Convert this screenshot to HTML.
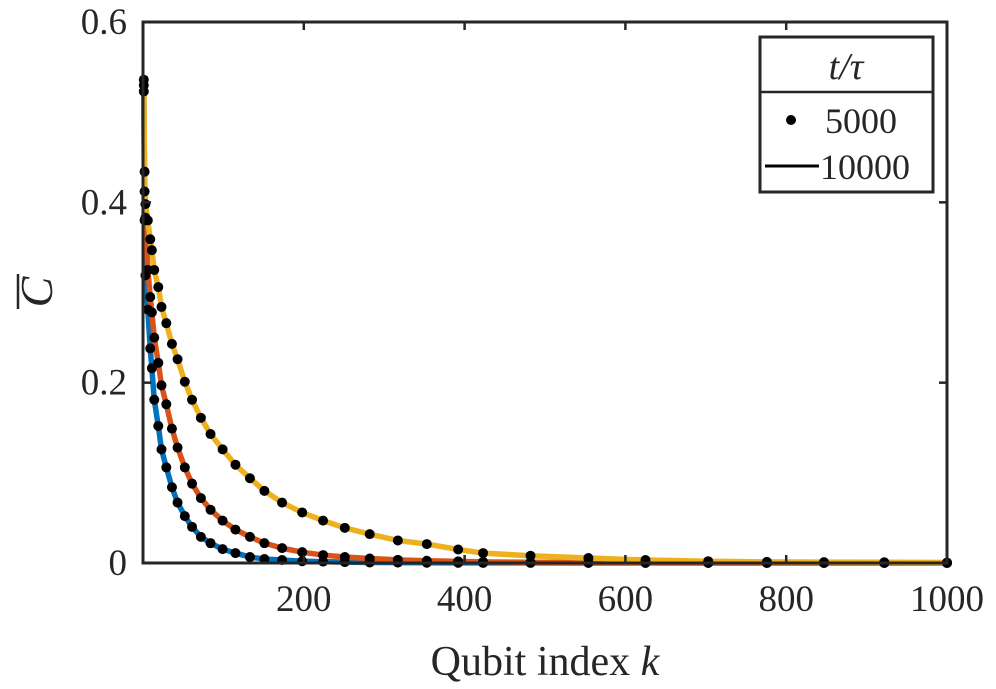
<!DOCTYPE html>
<html><head><meta charset="utf-8"><style>
body{margin:0;background:#fff;}
svg{display:block;font-family:"Liberation Serif","DejaVu Serif",serif;}
</style></head><body>
<svg id="chart" width="996" height="689" viewBox="0 0 996 689">
<g id="series"></g>
<g id="axes"></g>
<g id="legend">
<rect x="760" y="37" width="173" height="155" fill="#fff" stroke="#262626" stroke-width="3"/>
<line x1="760" y1="92" x2="933" y2="92" stroke="#262626" stroke-width="2.5"/>
<text x="846" y="79" font-size="38" font-style="italic" text-anchor="middle" fill="#262626">t/τ</text>
<circle cx="791" cy="120" r="5" fill="#000"/>
<text x="825" y="133" font-size="36" fill="#262626">5000</text>
<line x1="765" y1="166" x2="819" y2="166" stroke="#000" stroke-width="3"/>
<text x="820" y="179" font-size="36" fill="#262626">10000</text>
</g>
</svg>
<script>
const kValues=[1,2,3,6,9,11,14,19,23,29,36,43,52,61,72,84,99,115,133,151,173,198,224,251,282,317,353,392,423,482,554,625,703,776,847,922,1000];
const cYellow=[0.536,0.434,0.398,0.380,0.359,0.347,0.325,0.306,0.284,0.266,0.243,0.226,0.201,0.181,0.161,0.143,0.126,0.109,0.094,0.080,0.067,0.056,0.047,0.039,0.032,0.025,0.021,0.015,0.011,0.008,0.0055,0.0033,0.002,0.0012,0.001,0.0008,0.0005];
const cOrange=[0.53,0.412,0.383,0.325,0.295,0.278,0.25,0.222,0.197,0.176,0.149,0.128,0.106,0.088,0.072,0.059,0.047,0.037,0.029,0.022,0.0165,0.012,0.0088,0.0066,0.005,0.0035,0.0025,0.0018,0.0013,0.0008,0.0005,0.0003,0.0002,0.0001,0.0001,0.0001,0.0001];
const cBlue=[0.523,0.38,0.319,0.281,0.238,0.216,0.181,0.152,0.126,0.106,0.084,0.067,0.052,0.040,0.029,0.022,0.0154,0.011,0.0066,0.0044,0.0033,0.002,0.0015,0.001,0.0006,0.0004,0.0003,0.0002,0.0001,0.0001,0,0,0,0,0,0,0];
const xTicks=[200,400,600,800,1000];
const xTickLabels=["200","400","600","800","1000"];
const yTicks=[0,0.2,0.4,0.6];
const yTickLabels=["0","0.2","0.4","0.6"];

const L=143,R=947,T=22,B=563;
function xs(k){return L+(k-0)/(1000-0)*(R-L);}
function ys(c){return B-(c-0)/(0.6-0)*(B-T);}
const NS="http://www.w3.org/2000/svg";
function mk(tag,attrs,parent){const e=document.createElementNS(NS,tag);for(const a in attrs)e.setAttribute(a,attrs[a]);parent.appendChild(e);return e;}
const gs=document.getElementById('series');
const gax=document.getElementById('axes');
const sets=[[cBlue,'#0072BD','blue'],[cOrange,'#D95319','orange'],[cYellow,'#EDB120','yellow']];
sets.forEach(([vals,col,nm])=>{
  const pts=kValues.map((k,i)=>xs(k).toFixed(2)+','+ys(vals[i]).toFixed(2)).join(' ');
  const pl=mk('polyline',{points:pts,fill:'none',stroke:col,'stroke-width':5.5,'stroke-linejoin':'round'},gs);
  
  
});
sets.forEach(([vals,col,nm])=>{
  kValues.forEach((k,i)=>{
    const c=mk('circle',{cx:xs(k),cy:ys(vals[i]),r:5,fill:'#000'},gs);
    
    
  });
});
const box=mk('rect',{x:L,y:T,width:R-L,height:B-T,fill:'none',stroke:'#262626','stroke-width':3},gax);


xTicks.forEach((v,i)=>{
  const x=xs(v);
  mk('line',{x1:x,y1:B,x2:x,y2:B-8,stroke:'#262626','stroke-width':2.5},gax);
  mk('line',{x1:x,y1:T,x2:x,y2:T+8,stroke:'#262626','stroke-width':2.5},gax);
  const t=mk('text',{x:x,y:B+48,'font-size':37,'text-anchor':'middle',fill:'#262626'},gax);
  t.textContent=xTickLabels[i];
  
  
});
yTicks.forEach((v,i)=>{
  const y=ys(v);
  mk('line',{x1:L,y1:y,x2:L+8,y2:y,stroke:'#262626','stroke-width':2.5},gax);
  mk('line',{x1:R,y1:y,x2:R-8,y2:y,stroke:'#262626','stroke-width':2.5},gax);
  const t=mk('text',{x:L-16,y:y+12,'font-size':37,'text-anchor':'end',fill:'#262626'},gax);
  t.textContent=yTickLabels[i];
  
  
});
const xl=mk('text',{x:545,y:675,'font-size':42,'text-anchor':'middle',fill:'#262626'},gax);
xl.innerHTML='Qubit index <tspan font-style="italic">k</tspan>';


const yl=mk('text',{x:0,y:0,'font-size':46,'font-style':'italic','text-anchor':'middle',fill:'#262626',transform:'translate(52,292) rotate(-90)'},gax);
yl.textContent='C';


const ov=mk('line',{x1:18,y1:274,x2:18,y2:309,stroke:'#262626','stroke-width':2.5},gax);


</script>
</body></html>
